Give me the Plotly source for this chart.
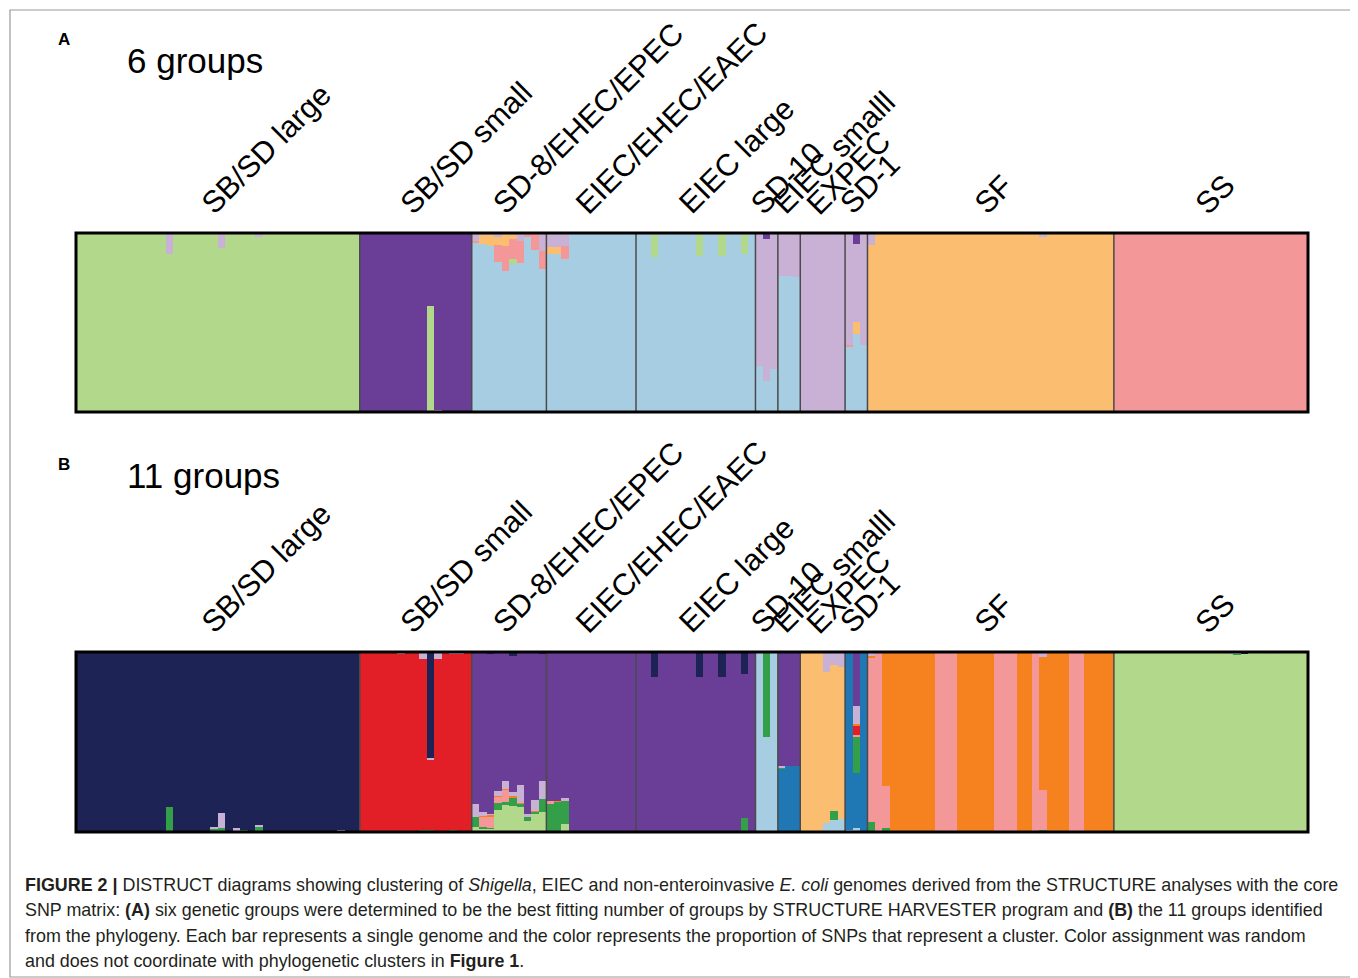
import plotly.graph_objects as go

# page body has an 8px margin; figure drawn at (8, 8)
OFF = 8
W, H = 1350, 970

# ---------------- data ----------------
GROUPS = ["SB/SD large", "SB/SD small", "SD-8/EHEC/EPEC", "EIEC/EHEC/EAEC", "EIEC large",
          "SD-10", "EIEC smalll", "EXPEC", "SD-1", "SF", "SS"]
GROUP_SIZES = [38, 15, 10, 12, 16, 3, 3, 6, 3, 33, 26]

COLORS = {
    "lightblue": "#a7cde2", "darkblue": "#1f78b4", "lightgreen": "#b2d88b", "green": "#33a049",
    "pink": "#f49799", "red": "#e21e26", "orange": "#f5821f", "lightorange": "#fbbd6f",
    "lavender": "#c9b1d5", "purple": "#6a3d96", "navy": "#1e2356",
}

# Panel A (6 groups): stacking order bottom -> top
A_CLUSTERS = ["lightblue", "lightgreen", "pink", "lightorange", "lavender", "purple"]
A_MAJOR = ["lightgreen", "purple", "lightblue", "lightblue", "lightblue",
           "lavender", "lavender", "lavender", "lavender", "lightorange", "pink"]
A_MIX = {
    12: {"lavender": 0.12}, 19: {"lavender": 0.085}, 24: {"lavender": 0.02},
    47: {"lightgreen": 0.59}, 48: {"lavender": 0.01},
    53: {"lavender": 0.045, "pink": 0.01},
    54: {"lightorange": 0.05, "lavender": 0.01},
    55: {"lightorange": 0.06, "lavender": 0.01},
    56: {"lavender": 0.02, "lightorange": 0.045, "pink": 0.095},
    57: {"lightorange": 0.075, "pink": 0.135},
    58: {"lavender": 0.01, "lightorange": 0.025, "pink": 0.11, "lightgreen": 0.028},
    59: {"lavender": 0.047, "pink": 0.12},
    60: {"pink": 0.02},
    61: {"pink": 0.093},
    62: {"lavender": 0.1, "pink": 0.1},
    63: {"lavender": 0.078, "lightorange": 0.04},
    64: {"lavender": 0.078, "lightorange": 0.04},
    65: {"lavender": 0.075, "pink": 0.07},
    77: {"lightgreen": 0.135}, 83: {"lightgreen": 0.13}, 86: {"lightgreen": 0.13}, 89: {"lightgreen": 0.117},
    91: {"lightblue": 0.255},
    92: {"lightblue": 0.175, "purple": 0.033},
    93: {"lightblue": 0.242},
    94: {"lightblue": 0.762}, 95: {"lightblue": 0.762}, 96: {"lightblue": 0.755},
    103: {"lightblue": 0.367, "pink": 0.008},
    104: {"lightblue": 0.436, "lightorange": 0.067, "purple": 0.06},
    105: {"lightblue": 0.372},
    106: {"lavender": 0.067},
    129: {"lavender": 0.025},
}

# Panel B (11 groups): stacking order bottom -> top
B_CLUSTERS = ["lightblue", "darkblue", "lightgreen", "green", "pink", "red",
              "orange", "lightorange", "lavender", "purple", "navy"]
B_MAJOR = ["navy", "red", "purple", "purple", "purple",
           "lightblue", "purple", "lightorange", "darkblue", "orange", "lightgreen"]
B_MIX = {
    12: {"green": 0.14},
    18: {"green": 0.02, "lavender": 0.01},
    19: {"green": 0.02, "lavender": 0.087},
    21: {"green": 0.01, "lavender": 0.01},
    22: {"green": 0.01},
    24: {"green": 0.03, "lavender": 0.01},
    35: {"lavender": 0.01},
    43: {"lavender": 0.01},
    46: {"lavender": 0.04, "green": 0.01},
    47: {"navy": 0.59, "lavender": 0.01, "green": 0.01},
    48: {"lavender": 0.04},
    50: {"lavender": 0.01, "green": 0.01},
    51: {"lavender": 0.01},
    53: {"lightgreen": 0.028, "green": 0.057, "lavender": 0.071},
    54: {"lightgreen": 0.017, "green": 0.011, "pink": 0.057, "orange": 0.005, "lavender": 0.021},
    55: {"lightgreen": 0.017, "green": 0.006, "pink": 0.065, "orange": 0.009, "lavender": 0.005, "navy": 0.01},
    56: {"lightgreen": 0.12, "green": 0.041, "pink": 0.035, "orange": 0.006, "lavender": 0.027},
    57: {"lightgreen": 0.152, "green": 0.015, "pink": 0.068, "orange": 0.005, "lavender": 0.041},
    58: {"lightgreen": 0.143, "green": 0.05, "orange": 0.005, "lavender": 0.024, "navy": 0.02},
    59: {"lightgreen": 0.139, "green": 0.017, "orange": 0.005, "lavender": 0.1},
    60: {"lightgreen": 0.059, "green": 0.022, "lavender": 0.018},
    61: {"lightgreen": 0.104, "green": 0.008, "orange": 0.005, "lavender": 0.063},
    62: {"lightgreen": 0.113, "green": 0.072, "lavender": 0.096, "navy": 0.01},
    63: {"green": 0.16, "pink": 0.01},
    64: {"green": 0.17, "orange": 0.005},
    65: {"lightgreen": 0.044, "green": 0.126, "lavender": 0.02},
    77: {"navy": 0.139}, 83: {"navy": 0.139}, 86: {"navy": 0.137},
    89: {"navy": 0.12, "green": 0.078},
    92: {"green": 0.47},
    94: {"darkblue": 0.35, "green": 0.01, "lavender": 0.005},
    95: {"darkblue": 0.365}, 96: {"darkblue": 0.365},
    100: {"lavender": 0.11, "lightblue": 0.05},
    101: {"lavender": 0.07, "green": 0.05, "lightblue": 0.067},
    102: {"lavender": 0.083, "lightblue": 0.07},
    103: {"lightblue": 0.01},
    104: {"purple": 0.3, "lavender": 0.102, "orange": 0.009, "red": 0.05, "pink": 0.009,
          "green": 0.204, "lightblue": 0.02},
    106: {"green": 0.055, "pink": 0.91, "orange": 0.015, "lavender": 0.02},
    107: {"pink": 1.0},
    108: {"green": 0.025, "pink": 0.228},
    115: {"pink": 1.0}, 116: {"pink": 1.0}, 117: {"pink": 1.0},
    123: {"pink": 1.0}, 124: {"pink": 1.0}, 125: {"pink": 1.0},
    128: {"pink": 1.0},
    129: {"green": 0.012, "pink": 0.223, "lavender": 0.03},
    133: {"pink": 1.0}, 134: {"pink": 1.0},
    154: {"lavender": 0.01}, 155: {"lavender": 0.01, "green": 0.005},
    156: {"navy": 0.006}, 160: {"lavender": 0.008},
}

PANEL_TITLES = ["6 groups", "11 groups"]
PANEL_LETTERS = ["A", "B"]

CAPTION = [
    "<b>FIGURE 2 |</b> DISTRUCT diagrams showing clustering of <i>Shigella</i>, EIEC and non-enteroinvasive "
    "<i>E. coli</i> genomes derived from the STRUCTURE analyses with the core",
    "SNP matrix: <b>(A)</b> six genetic groups were determined to be the best fitting number of groups by "
    "STRUCTURE HARVESTER program and <b>(B)</b> the 11 groups identified",
    "from the phylogeny. Each bar represents a single genome and the color represents the proportion of SNPs "
    "that represent a cluster. Color assignment was random",
    "and does not coordinate with phylogenetic clusters in <b>Figure 1</b>.",
]

# ---------------- build ----------------
starts = []
s = 0
for n in GROUP_SIZES:
    starts.append(s)
    s += n
NBARS = s
bar_group = []
for gi, n in enumerate(GROUP_SIZES):
    bar_group += [gi] * n


def build(clusters, major, mix):
    vals = {c: [0.0] * NBARS for c in clusters}
    for i in range(NBARS):
        m = mix.get(i, {})
        for c, v in m.items():
            vals[c][i] += v
        rest = 1.0 - sum(m.values())
        if rest > 0:
            vals[major[bar_group[i]]][i] += rest
    return vals


xs = list(range(NBARS))
fig = go.Figure()
panels = [(A_CLUSTERS, A_MAJOR, A_MIX, "x", "y"), (B_CLUSTERS, B_MAJOR, B_MIX, "x2", "y2")]
for clusters, major, mix, xa, ya in panels:
    vals = build(clusters, major, mix)
    for c in clusters:
        fig.add_trace(go.Bar(x=xs, y=vals[c], xaxis=xa, yaxis=ya, name=c,
                             marker=dict(color=COLORS[c], line=dict(width=0)),
                             showlegend=False, hoverinfo="skip"))

PX = (76, 1308)
YA = (233, 412)
YB = (652, 832)


def px2paper_x(px):
    return (px - OFF) / W


def px2paper_y(py):
    return 1 - (py - OFF) / H


ax_common = dict(range=[-0.5, NBARS - 0.5], visible=False, fixedrange=True)
fig.update_layout(
    width=W, height=H, margin=dict(l=0, r=0, t=0, b=0),
    paper_bgcolor="white", plot_bgcolor="white",
    barmode="stack", bargap=0, showlegend=False,
    font=dict(family="Liberation Sans, Arial, sans-serif", color="black"),
    xaxis=dict(domain=[px2paper_x(PX[0]), px2paper_x(PX[1])], anchor="y", **ax_common),
    yaxis=dict(domain=[px2paper_y(YA[1]), px2paper_y(YA[0])], range=[0, 1], visible=False, anchor="x"),
    xaxis2=dict(domain=[px2paper_x(PX[0]), px2paper_x(PX[1])], anchor="y2", **ax_common),
    yaxis2=dict(domain=[px2paper_y(YB[1]), px2paper_y(YB[0])], range=[0, 1], visible=False, anchor="x2"),
)

shapes = []
annotations = []
for pi, (xa, ya, ytop) in enumerate([("x", "y", YA[0]), ("x2", "y2", YB[0])]):
    for st in starts[1:]:
        shapes.append(dict(type="line", xref=xa, yref=ya + " domain", x0=st - 0.5, x1=st - 0.5,
                           y0=0, y1=1, line=dict(color="#4a4a4a", width=1.5), layer="above"))
    shapes.append(dict(type="rect", xref=xa + " domain", yref=ya + " domain", x0=0, x1=1, y0=0, y1=1,
                       line=dict(color="black", width=3), layer="above"))
    for gi, name in enumerate(GROUPS):
        center = starts[gi] + GROUP_SIZES[gi] / 2 - 0.5
        annotations.append(dict(text=name, xref=xa, yref="paper", x=center,
                                y=px2paper_y(ytop - 10), xanchor="left", yanchor="bottom",
                                xshift=-26, textangle=-45, showarrow=False,
                                font=dict(size=30.5, family="Liberation Sans, Arial, sans-serif")))

for pi, yy in enumerate([(40, 60), (464, 475)]):
    annotations.append(dict(text="<b>%s</b>" % PANEL_LETTERS[pi], xref="paper", yref="paper",
                            x=px2paper_x(56), y=px2paper_y(yy[0]), xanchor="left", yanchor="middle",
                            showarrow=False, font=dict(size=17)))
    annotations.append(dict(text=PANEL_TITLES[pi], xref="paper", yref="paper",
                            x=px2paper_x(125), y=px2paper_y(yy[1]), xanchor="left", yanchor="middle",
                            showarrow=False, font=dict(size=35)))

for li, line in enumerate(CAPTION):
    annotations.append(dict(text=line, xref="paper", yref="paper",
                            x=px2paper_x(23), y=px2paper_y(885 + li * 25.3), xanchor="left",
                            yanchor="middle", showarrow=False, align="left",
                            font=dict(size=17.9, color="#231f20")))

shapes.append(dict(type="rect", xref="paper", yref="paper",
                   x0=px2paper_x(10), x1=px2paper_x(1355), y0=px2paper_y(977), y1=px2paper_y(10),
                   line=dict(color="#9a9a9a", width=1.2), layer="below"))

fig.update_layout(shapes=shapes, annotations=annotations)
fig.write_html("out.html")
